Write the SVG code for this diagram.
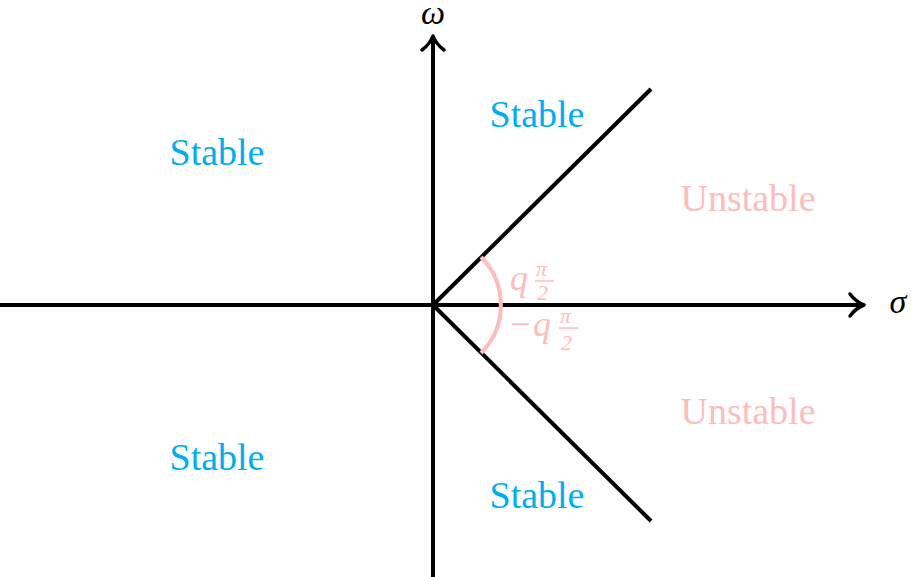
<svg xmlns="http://www.w3.org/2000/svg" width="912" height="577" viewBox="0 0 912 577">
<style>
.ax{stroke:#000;stroke-width:4;fill:none}
.ah{stroke:#000;stroke-width:3.5;fill:none;stroke-linecap:round;stroke-linejoin:round}
.st{font-family:'Liberation Serif','Times New Roman',serif;font-size:38px;fill:#00aeef}
.un{font-family:'Liberation Serif','Times New Roman',serif;font-size:38px;fill:#ffbcbc}
.m{font-family:'Liberation Serif','Times New Roman',serif;font-style:italic;fill:#ffbcbc}
.ml{font-family:'Liberation Serif','Times New Roman',serif;font-style:italic;font-size:34px;fill:#000}
</style>
<rect width="912" height="577" fill="#fff"/>
<g id="connectors">
<line class="ax" x1="0" y1="305" x2="862" y2="305"/>
<path class="ah" d="M850,294 Q856,302 864,305 Q856,308 850,316"/>
<line class="ax" x1="433" y1="577" x2="433" y2="38"/>
<path class="ah" d="M422,50 Q430,44 433,36 Q436,44 444,50"/>
<line class="ax" x1="433" y1="305" x2="651" y2="89"/>
<line class="ax" x1="433" y1="305" x2="651" y2="521"/>
<path d="M481,257 A68,68 0 0 1 481,353" stroke="#ffbcbc" stroke-width="4" fill="none"/>
</g>
<g id="labels">
<text class="ml" x="433" y="24" text-anchor="middle">ω</text>
<text class="ml" x="898" y="313" text-anchor="middle">σ</text>
<text class="st" x="217" y="165" text-anchor="middle">Stable</text>
<text class="st" x="537" y="127" text-anchor="middle">Stable</text>
<text class="st" x="217" y="470" text-anchor="middle">Stable</text>
<text class="st" x="537" y="508" text-anchor="middle">Stable</text>
<text class="un" x="748" y="211" text-anchor="middle">Unstable</text>
<text class="un" x="748" y="424" text-anchor="middle">Unstable</text>
<text class="m" x="510" y="290" font-size="36">q</text>
<text class="m" x="536" y="276" font-size="22">π</text>
<line x1="535" y1="281" x2="554" y2="281" stroke="#ffbcbc" stroke-width="1.5"/>
<text class="m" x="537" y="300" font-size="22" font-style="normal">2</text>
<text class="m" x="508" y="336" font-size="36" font-style="normal">−</text>
<text class="m" x="533" y="336" font-size="36">q</text>
<text class="m" x="560" y="323" font-size="22">π</text>
<line x1="559" y1="328" x2="578" y2="328" stroke="#ffbcbc" stroke-width="1.5"/>
<text class="m" x="561" y="350" font-size="22" font-style="normal">2</text>
</g>
</svg>
